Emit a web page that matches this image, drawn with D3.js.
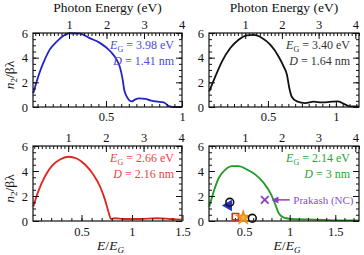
<!DOCTYPE html>
<html><head><meta charset="utf-8">
<script src="https://cdn.jsdelivr.net/npm/d3@7"></script>
<style>
html,body{margin:0;padding:0;background:#fff;}
svg{display:block;font-family:"Liberation Serif","DejaVu Serif",serif;}
</style></head><body>
<svg id="c" width="364" height="255"></svg>
<script>
// ---------- data (x = E/E_G, y = n2/βλ) ----------
const p1x = [0.022,0.055,0.088,0.13,0.176,0.22,0.26,0.33,0.39,0.46,0.53,0.57,0.59,0.61,0.62,0.636,0.67,0.69,0.72,0.76,0.79,0.83,0.88,0.91,0.94,1.0];
const p1y = [1.13,2.5,3.57,4.65,5.3,5.78,5.98,5.95,5.6,5.2,4.5,3.84,3.3,2.2,1.4,0.86,0.45,0.6,0.7,0.65,0.54,0.45,0.37,0.1,0.0,0.0];
const p2x = [0.068,0.113,0.162,0.223,0.284,0.346,0.395,0.456,0.517,0.578,0.615,0.64,0.657,0.676,0.713,0.774,0.836,0.897,0.97,1.015,1.07,1.105,1.17];
const p2y = [1.27,2.48,3.7,4.78,5.46,5.8,5.84,5.6,5.05,4.1,3.3,2.6,1.54,0.81,0.45,0.32,0.43,0.37,0.43,0.45,0.19,0.05,0.05];
const p3x = [0.023,0.072,0.139,0.205,0.287,0.37,0.452,0.535,0.617,0.683,0.733,0.766,0.792,0.832,0.914,1.08,1.245,1.376,1.49];
const p3y = [1.16,2.37,3.58,4.39,4.92,5.14,5.0,4.52,3.71,2.77,1.69,0.76,0.16,0.22,0.16,0.16,0.22,0.16,0.11];
const p4x = [0.119,0.167,0.222,0.295,0.368,0.44,0.533,0.624,0.716,0.789,0.844,0.88,0.936,1.027,1.28,1.54,1.76];
const p4y = [1.16,2.37,3.44,4.11,4.39,4.39,4.11,3.71,3.04,2.23,1.29,0.62,0.27,0.16,0.11,0.05,0.05];

const gapEV = ["3.98","3.40","2.66","2.14"];
const sizeNM = ["1.41","1.64","2.16","3"];
const bottomTicks = [[0.5,1],[0.5,1],[0.5,1,1.5],[0.5,1,1.5]];
const topTicks = [1,2,3,4];
const yTicks = [0,2,4,6];

// experimental points in panel 4
const expX = [0.343,0.33,0.405,0.49,0.59];
const expY = [1.5,1.24,0.35,0.27,0.22];
const expType = ["circle","triangle","square","star","circle"];
const prakashX = 0.727, prakashY = 1.69;

// ---------- layout / style ----------
const panels = [
  {x0:33, x1:182, y0:33, y1:107, bx:[0.02,1.0],  tx:[0.04,4.013], minorB:0.05, bpad:5, col:"#2323c8", tcol:"#4a4ae0", xs:p1x, ys:p1y, showY:true,  showTitle:true,  showXL:false},
  {x0:209,x1:359, y0:33, y1:107, bx:[0.066,1.17],tx:[0.014,4.1],  minorB:0.05, bpad:5, col:"#111111", tcol:"#333333", xs:p2x, ys:p2y, showY:false, showTitle:true,  showXL:false},
  {x0:33, x1:182, y0:146,y1:221, bx:[0.02,1.495],tx:[0.066,4.02], minorB:0.1,  bpad:6, col:"#e3241c", tcol:"#e84545", xs:p3x, ys:p3y, showY:true,  showTitle:false, showXL:true},
  {x0:209,x1:359, y0:146,y1:221, bx:[0.115,1.76],tx:[0.027,4.1],  minorB:0.1,  bpad:6, col:"#1f9a24", tcol:"#2aa530", xs:p4x, ys:p4y, showY:false, showTitle:false, showXL:true}
];

const svg = d3.select("#c");
const FS = 12.5;

function range(a,b,s){const r=[];for(let v=Math.ceil(a/s-1e-9)*s; v<=b+1e-9; v+=s) r.push(+v.toFixed(4)); return r;}

panels.forEach((p,i)=>{
  const x = d3.scaleLinear().domain(p.bx).range([p.x0,p.x1]);
  const xt = d3.scaleLinear().domain(p.tx).range([p.x0,p.x1]);
  const y = d3.scaleLinear().domain([0,6]).range([p.y1,p.y0]);
  const g = svg.append("g");

  // curve
  const pts = p.xs.map((v,k)=>[v,p.ys[k]]);
  g.append("path").datum(pts)
    .attr("d", d3.line().x(d=>x(d[0])).y(d=>y(d[1])).curve(d3.curveMonotoneX))
    .attr("fill","none").attr("stroke",p.col).attr("stroke-width",1.8);

  // axes with inward ticks
  const minorBV = range(p.bx[0],p.bx[1],p.minorB);
  const minorTV = range(p.tx[0],p.tx[1],0.1);
  const minorYV = range(0,6,0.5);

  const axB = g.append("g").attr("transform",`translate(0,${p.y1})`)
    .call(d3.axisBottom(x).tickValues(minorBV).tickSize(-3).tickFormat(""));
  const axB2 = g.append("g").attr("transform",`translate(0,${p.y1})`)
    .call(d3.axisBottom(x).tickValues(bottomTicks[i]).tickSize(-6).tickPadding(p.bpad).tickFormat(d3.format("")));
  const axT = g.append("g").attr("transform",`translate(0,${p.y0})`)
    .call(d3.axisTop(xt).tickValues(minorTV).tickSize(-3).tickFormat(""));
  const axT2 = g.append("g").attr("transform",`translate(0,${p.y0})`)
    .call(d3.axisTop(xt).tickValues(topTicks.filter(t=>t>=p.tx[0]&&t<=p.tx[1])).tickSize(-6).tickPadding(4).tickFormat(d3.format("")));
  const axL = g.append("g").attr("transform",`translate(${p.x0},0)`)
    .call(d3.axisLeft(y).tickValues(minorYV).tickSize(-3).tickFormat(""));
  const axL2 = g.append("g").attr("transform",`translate(${p.x0},0)`)
    .call(d3.axisLeft(y).tickValues(yTicks).tickSize(-6).tickPadding(5).tickFormat(d3.format("")));
  const axR = g.append("g").attr("transform",`translate(${p.x1},0)`)
    .call(d3.axisRight(y).tickValues(minorYV).tickSize(-3).tickFormat(""));
  const axR2 = g.append("g").attr("transform",`translate(${p.x1},0)`)
    .call(d3.axisRight(y).tickValues(yTicks).tickSize(-6).tickFormat(""));

  [axB,axB2,axT,axT2,axL,axL2,axR,axR2].forEach(a=>{
    a.select(".domain").remove();
    a.selectAll("line").attr("stroke","#111").attr("stroke-width",1);
    a.selectAll("text").attr("font-family","Liberation Serif").attr("font-size",FS).attr("fill","#111");
  });

  // frame
  g.append("rect").attr("x",p.x0).attr("y",p.y0).attr("width",p.x1-p.x0).attr("height",p.y1-p.y0)
    .attr("fill","none").attr("stroke","#111").attr("stroke-width",1.2);

  // annotation
  const tx = p.x0+141;
  const ay = p.y0 + 16;
  const t1 = g.append("text").attr("x",tx).attr("y",ay).attr("text-anchor","end")
    .attr("font-size",12).attr("fill",p.tcol);
  t1.append("tspan").attr("font-style","italic").text("E");
  t1.append("tspan").attr("font-size",8).attr("dy",2.5).text("G");
  t1.append("tspan").attr("dy",-2.5).text(` = ${gapEV[i]} eV`);
  const t2 = g.append("text").attr("x",tx).attr("y",ay+16).attr("text-anchor","end")
    .attr("font-size",12).attr("fill",p.tcol);
  t2.append("tspan").attr("font-style","italic").text("D");
  t2.append("tspan").text(` = ${sizeNM[i]} nm`);

  if(p.showTitle){
    svg.append("text").attr("x",(p.x0+p.x1)/2).attr("y",12).attr("text-anchor","middle")
      .attr("font-size",13.5).attr("fill","#111").text("Photon Energy (eV)");
  }
  if(p.showY){
    const cy = (p.y0+p.y1)/2 + 5;
    const yl = svg.append("text").attr("transform",`translate(14,${cy}) rotate(-90)`)
      .attr("text-anchor","middle").attr("font-size",13.5).attr("fill","#111");
    yl.append("tspan").attr("font-style","italic").text("n");
    yl.append("tspan").attr("font-size",9).attr("dy",3).text("2");
    yl.append("tspan").attr("dy",-3).text("/βλ");
  }
  if(p.showXL){
    const xl = svg.append("text").attr("x",(p.x0+p.x1)/2 + 3).attr("y",250).attr("text-anchor","middle")
      .attr("font-size",13.5).attr("fill","#111");
    xl.append("tspan").attr("font-style","italic").text("E");
    xl.append("tspan").text("/");
    xl.append("tspan").attr("font-style","italic").text("E");
    xl.append("tspan").attr("font-size",9).attr("font-style","italic").attr("dy",3).text("G");
  }

  if(i===3){
    // experimental points
    const symMap = {circle:d3.symbolCircle, triangle:d3.symbolTriangle, square:d3.symbolSquare, star:d3.symbolStar};
    const sty = {
      circle:{fill:"none",stroke:"#111",size:48},
      triangle:{fill:"#2530c8",stroke:"#2530c8",size:34},
      square:{fill:"none",stroke:"#e3241c",size:40},
      star:{fill:"#f6b530",stroke:"#f08a1c",size:45}
    };
    const order = [1,0,2,3,4];
    order.forEach(k=>{
      const s = sty[expType[k]];
      g.append("path").attr("d",d3.symbol().type(symMap[expType[k]]).size(s.size)())
        .attr("transform",`translate(${x(expX[k])},${y(expY[k])})${expType[k]==="triangle"?" rotate(-90)":""}`)
        .attr("fill",s.fill).attr("stroke",s.stroke).attr("stroke-width",1.6);
    });
    // Prakash cross
    g.append("path").attr("d",d3.symbol().type(d3.symbolX).size(40)())
      .attr("transform",`translate(${x(prakashX)},${y(prakashY)})`)
      .attr("fill","none").attr("stroke","#8a3fc4").attr("stroke-width",1.8);
    // arrow
    const ax0 = x(1.0), ax1 = x(0.8), ayy = y(prakashY);
    g.append("line").attr("x1",ax0).attr("y1",ayy).attr("x2",ax1+4).attr("y2",ayy)
      .attr("stroke","#8a3fc4").attr("stroke-width",1.5);
    g.append("path").attr("d",`M${ax1},${ayy} L${ax1+7},${ayy-3.5} L${ax1+7},${ayy+3.5} Z`).attr("fill","#8a3fc4");
    g.append("text").attr("x",x(1.04)).attr("y",ayy+4).attr("font-size",11).attr("fill","#8a4fc8")
      .text("Prakash (NC)");
  }
});
</script>
</body></html>
